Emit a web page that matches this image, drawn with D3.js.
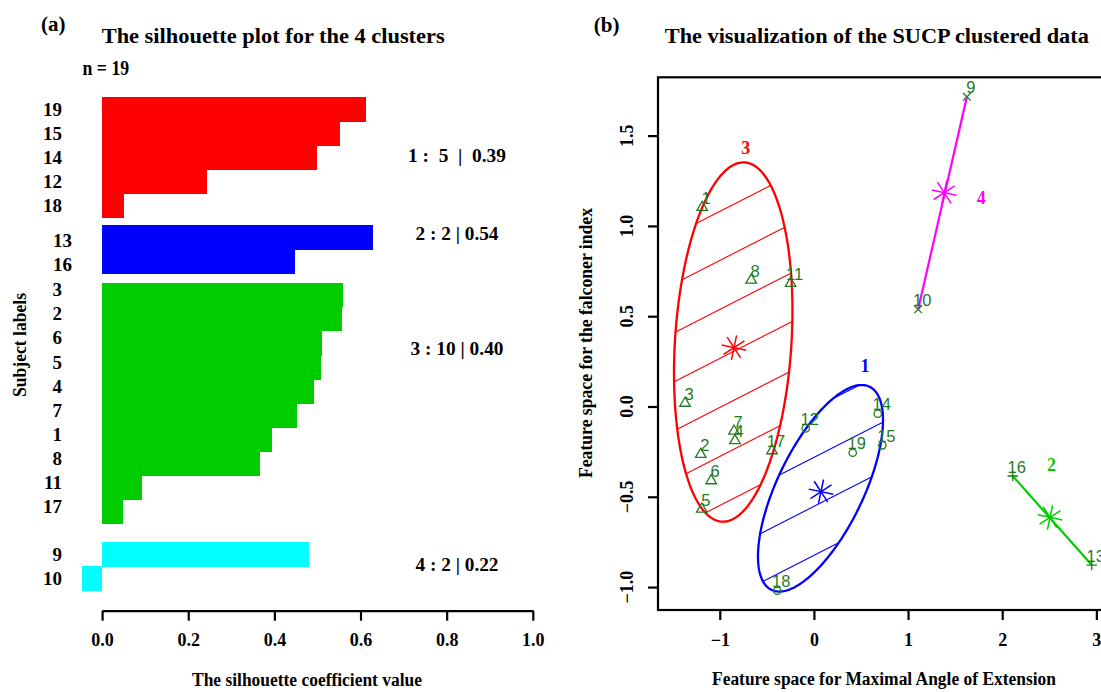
<!DOCTYPE html>
<html><head><meta charset="utf-8">
<script src="https://cdn.jsdelivr.net/npm/d3@7"></script>
<style>body{margin:0;background:#fff}svg{display:block}text{white-space:pre}</style>
</head><body>
<svg id="c" width="1101" height="692"></svg>
<script>
// ---------- DATA ----------
// (a) silhouette plot
const silLabels  = ["19","15","14","12","18","13","16","3","2","6","5","4","7","1","8","11","17","9","10"];
const silValues  = [0.612,0.552,0.499,0.243,0.051,0.629,0.448,0.560,0.558,0.511,0.508,0.492,0.453,0.394,0.366,0.093,0.049,0.480,-0.047];
const silCluster = [1,1,1,1,1,2,2,3,3,3,3,3,3,3,3,3,3,4,4];
const silSummary = ["1 :  5  |  0.39","2 : 2 | 0.54","3 : 10 | 0.40","4 : 2 | 0.22"];
const silTicks   = [0,0.2,0.4,0.6,0.8,1.0];

// (b) clustered data (id, x, y, cluster)
const ptIds     = [1,2,3,4,5,6,7,8,9,10,11,12,13,14,15,16,17,18,19];
const ptX       = [-1.187,-1.202,-1.369,-0.838,-1.191,-1.091,-0.849,-0.666,1.625,1.107,-0.248,-0.087,2.951,0.678,0.727,2.112,-0.445,-0.389,0.412];
const ptY       = [1.103,-0.265,0.018,-0.189,-0.568,-0.411,-0.136,0.700,1.715,0.538,0.682,-0.121,-0.878,-0.040,-0.215,-0.385,-0.245,-1.020,-0.256];
const ptCluster = [3,3,3,3,3,3,3,3,4,4,3,1,2,1,1,2,3,1,1];

const starCluster = [1,2,3,4];
const starX = [0.075,2.508,-0.849,1.384];
const starY = [-0.472,-0.614,0.326,1.184];
const clusLabX = [0.542,2.524,-0.723,1.778];
const clusLabY = [0.226,-0.324,1.433,1.153];

const ellCluster = [1,3];
const ellCX = [0.070,-0.857];
const ellCY = [-0.453,0.357];
const ellA  = [0.664,0.629];
const ellB  = [0.377,0.1715];
const ellC  = [0.430,0.980];

const xTicksB = [-1,0,1,2,3];
const yTicksB = [-1.0,-0.5,0.0,0.5,1.0,1.5];

// ---------- STYLE ----------
const SERIF = "'Liberation Serif','Times New Roman',serif";
const SANS  = "'Liberation Sans',Arial,sans-serif";
const barColor = {1:"#ff0000",2:"#0000ff",3:"#00cd00",4:"#00ffff"};
const scColor  = {1:"#0000ff",2:"#00cd00",3:"#ff0000",4:"#ff00ff"};
const markType = {1:"circle",2:"plus",3:"triangle",4:"cross"};
const ptCol = "#1e7b1e";

const svg = d3.select("#c");

function txt(x,y,s,o){
  const t = svg.append("text").attr("x",x).attr("y",y).text(s)
    .attr("font-family",o.family||SERIF).attr("font-weight",o.weight||"bold")
    .attr("font-size",o.size).attr("fill",o.fill||"#000")
    .attr("text-anchor",o.anchor||"start")
    .attr("xml:space","preserve");
  if(o.len){t.attr("textLength",o.len).attr("lengthAdjust","spacingAndGlyphs");}
  if(o.rot){t.attr("transform",`rotate(${o.rot},${x},${y})`);}
  return t;
}

// ---------- (a) ----------
const sx = d3.scaleLinear().domain([0,1]).range([102.1,532.8]);
const rowH = 24.1, rowTop = 97;
const groupGap = {1:0,2:7.5,3:17,4:35.5};
const labShiftX = {1:0,2:10,3:0,4:0};
const labShiftY = {1:0,2:3.5,3:-5,4:0};
const firstRow = {};
silCluster.forEach((c,i)=>{ if(firstRow[c]===undefined) firstRow[c]=i; });
const rowY = (i)=> rowTop + i*rowH + groupGap[silCluster[i]];

const gA = svg.append("g");
gA.selectAll("rect").data(silValues).join("rect")
  .attr("x",d=>sx(Math.min(0,d)))
  .attr("width",d=>Math.abs(sx(d)-sx(0)))
  .attr("y",(d,i)=>rowY(i))
  .attr("height",rowH+0.5)
  .attr("fill",(d,i)=>barColor[silCluster[i]])
  .attr("shape-rendering","crispEdges");

silLabels.forEach((s,i)=>{
  const c = silCluster[i];
  txt(62+labShiftX[c], rowY(i)+rowH/2+6.5+labShiftY[c], s, {size:19, anchor:"end"});
});

const summaryRow = [2.44,0.37,2.75,0.93];
const summaryLen = [98,83,93,83];
[1,2,3,4].forEach((c,k)=>{
  const y0 = rowTop + firstRow[c]*rowH + groupGap[c] + summaryRow[k]*rowH;
  txt(457, y0+6.5, silSummary[k], {size:19, anchor:"middle", len:summaryLen[k]});
});

const axA = svg.append("g").attr("transform","translate(0,610.7)")
  .call(d3.axisBottom(sx).tickValues(silTicks).tickFormat(d3.format(".1f")).tickSize(10).tickSizeOuter(0).tickPadding(13));
axA.select(".domain").attr("stroke-width",2.2);
axA.selectAll(".tick line").attr("stroke-width",2.2);
axA.selectAll("text").attr("font-family",SERIF).attr("font-weight","bold").attr("font-size",18);

txt(53.3,31,"(a)",{size:21,anchor:"middle"});
txt(101.7,43.3,"The silhouette plot for the 4 clusters",{size:22,len:343});
txt(82.5,75,"n = 19",{size:20,len:46.7});
txt(307,686,"The silhouette coefficient value",{size:18,anchor:"middle",len:230});
txt(26,345,"Subject labels",{size:18,anchor:"middle",len:104,rot:-90});

// ---------- (b) ----------
const X = d3.scaleLinear().domain([-1.656,3.5]).range([658,658+5.156*94.15]);
const Y = d3.scaleLinear().domain([-1.127,1.823]).range([610,77.3]);

// ellipses with hatching
const defs = svg.append("defs");
const ellLine = d3.line().curve(d3.curveLinearClosed);
const hatchSlope = -0.511, hatchGap = 49, hatchPhaseX = 780, hatchPhaseY = 180.7;
ellCluster.forEach((c,k)=>{
  const pts = d3.range(0,360,1.5).map(a=>{
    const t = a*Math.PI/180;
    return [X(ellCX[k]+ellA[k]*Math.cos(t)), Y(ellCY[k]+ellB[k]*Math.cos(t)+ellC[k]*Math.sin(t))];
  });
  const pathD = ellLine(pts);
  defs.append("clipPath").attr("id","clip"+c).append("path").attr("d",pathD);
  const hg = svg.append("g").attr("clip-path",`url(#clip${c})`);
  const x1=640,x2=920;
  d3.range(-8,14).forEach(j=>{
    const base = hatchPhaseY + j*hatchGap;
    hg.append("line").attr("x1",x1).attr("x2",x2)
      .attr("y1",base+hatchSlope*(x1-hatchPhaseX)).attr("y2",base+hatchSlope*(x2-hatchPhaseX))
      .attr("stroke",scColor[c]).attr("stroke-width",1.1);
  });
  svg.append("path").attr("d",pathD).attr("fill","none").attr("stroke",scColor[c]).attr("stroke-width",2.3);
});

// segments for two-point clusters
[2,4].forEach(c=>{
  const idx = ptCluster.map((v,i)=>v===c?i:-1).filter(i=>i>=0);
  svg.append("line")
    .attr("x1",X(ptX[idx[0]])).attr("y1",Y(ptY[idx[0]]))
    .attr("x2",X(ptX[idx[1]])).attr("y2",Y(ptY[idx[1]]))
    .attr("stroke",scColor[c]).attr("stroke-width",2.2);
});

// stars (centres)
starCluster.forEach((c,k)=>{
  const cx=X(starX[k]), cy=Y(starY[k]), r=12.5;
  [0,45,90,135].forEach(a=>{
    const t=(a+12)*Math.PI/180;
    svg.append("line").attr("x1",cx-r*Math.cos(t)).attr("y1",cy-r*Math.sin(t))
      .attr("x2",cx+r*Math.cos(t)).attr("y2",cy+r*Math.sin(t))
      .attr("stroke",scColor[c]).attr("stroke-width",1.5);
  });
});

// points
const gP = svg.append("g").attr("fill","none").attr("stroke",ptCol).attr("stroke-width",1.3);
ptIds.forEach((id,i)=>{
  const px=X(ptX[i]), py=Y(ptY[i]), m=markType[ptCluster[i]];
  if(m==="circle"){
    gP.append("circle").attr("cx",px).attr("cy",py).attr("r",3.7);
  } else if(m==="triangle"){
    const xc=3.9;
    gP.append("path").attr("d",`M${px},${py-1.555*xc}L${px+1.347*xc},${py+0.778*xc}L${px-1.347*xc},${py+0.778*xc}Z`);
  } else if(m==="plus"){
    gP.append("path").attr("d",`M${px-5.2},${py}H${px+5.2}M${px},${py-5.2}V${py+5.2}`);
  } else {
    gP.append("path").attr("d",`M${px-3.8},${py-3.8}L${px+3.8},${py+3.8}M${px-3.8},${py+3.8}L${px+3.8},${py-3.8}`);
  }
  txt(px+4, py-3.5, String(id), {family:SANS, weight:"normal", size:16.5, fill:ptCol, anchor:"middle"});
});

// cluster labels
starCluster.forEach((c,k)=>{
  txt(X(clusLabX[k]), Y(clusLabY[k])+6, String(c), {size:18, anchor:"middle", fill:scColor[c]});
});

// frame and axes
svg.append("rect").attr("x",658).attr("y",77.3).attr("width",X.range()[1]-658).attr("height",610-77.3)
  .attr("fill","none").attr("stroke","#000").attr("stroke-width",2.2);

const axBx = svg.append("g").attr("transform","translate(0,610)")
  .call(d3.axisBottom(X).tickValues(xTicksB).tickFormat(d3.format("d")).tickSize(10).tickSizeOuter(0).tickPadding(13));
axBx.select(".domain").remove();
axBx.selectAll(".tick line").attr("stroke-width",2.2);
axBx.selectAll("text").attr("font-family",SERIF).attr("font-weight","bold").attr("font-size",18);

const axBy = svg.append("g").attr("transform","translate(658,0)")
  .call(d3.axisLeft(Y).tickValues(yTicksB).tickSize(10).tickSizeOuter(0).tickFormat(""));
axBy.select(".domain").remove();
axBy.selectAll(".tick line").attr("stroke-width",2.2);
yTicksB.forEach(v=>{
  txt(633, Y(v), d3.format(".1f")(v), {size:18, anchor:"middle", rot:-90});
});

txt(606.6,31.5,"(b)",{size:21,anchor:"middle"});
txt(664.8,43.3,"The visualization of the SUCP clustered data",{size:22,len:424});
txt(884,685,"Feature space for Maximal Angle of Extension",{size:18,anchor:"middle",len:344});
txt(592,343,"Feature space for the falconer index",{size:18,anchor:"middle",len:270,rot:-90});
</script>
</body></html>
